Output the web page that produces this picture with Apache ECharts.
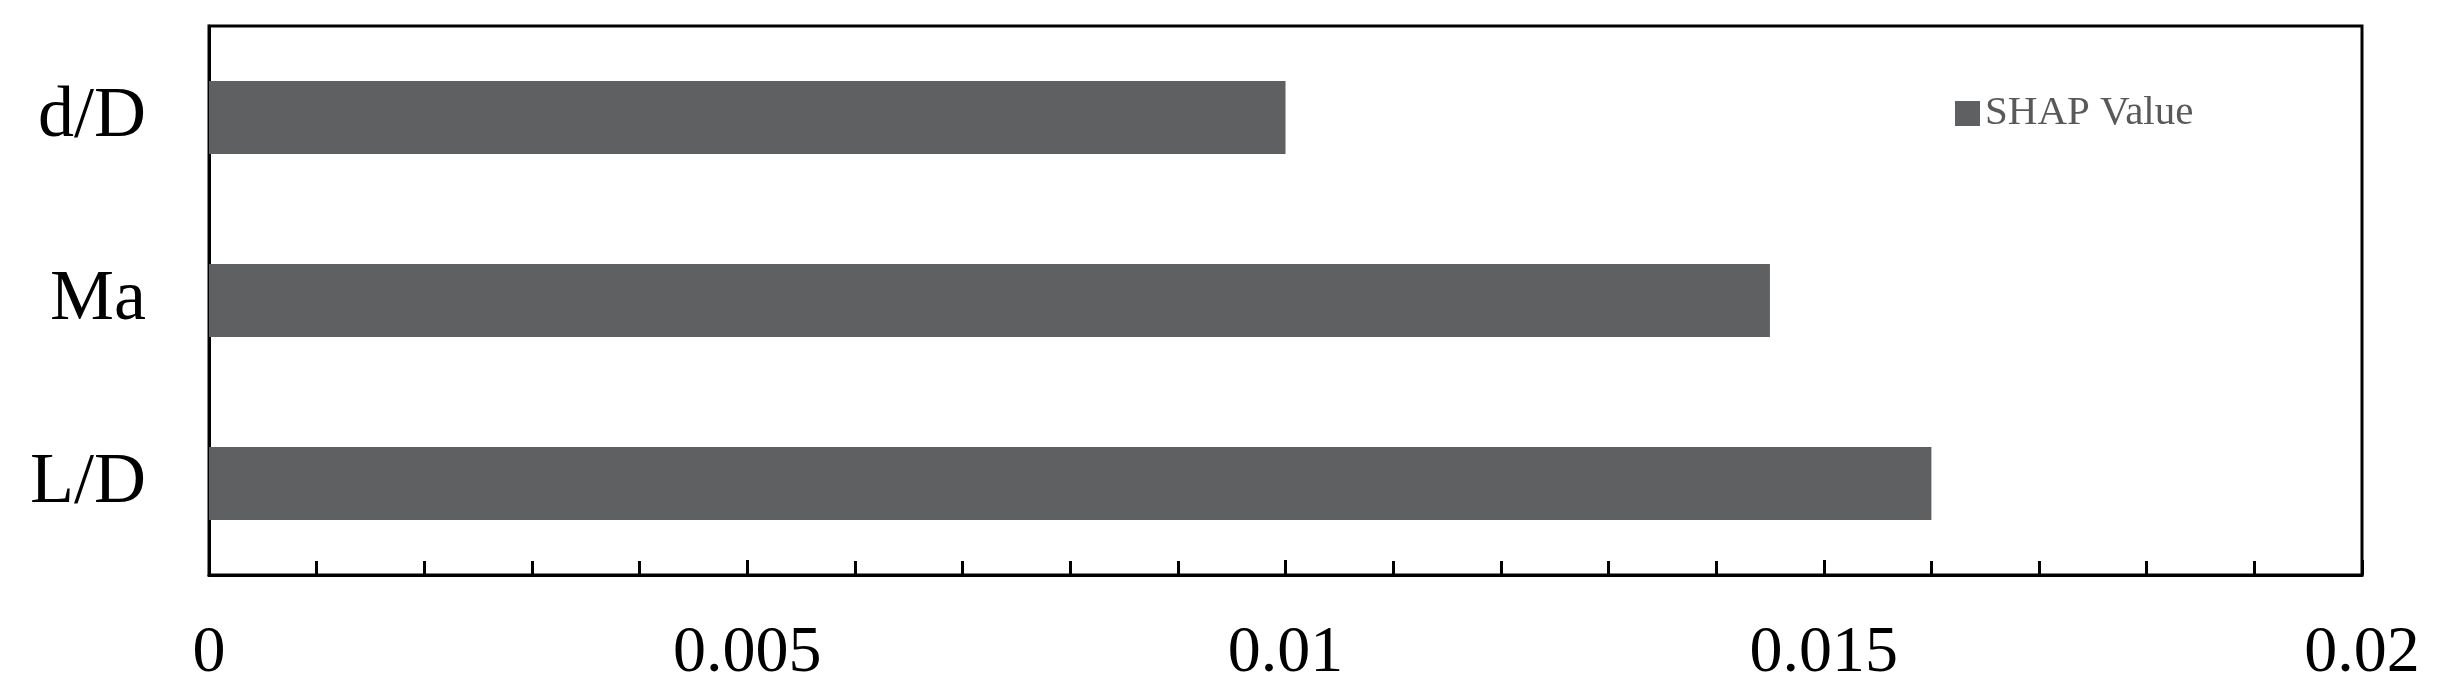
<!DOCTYPE html>
<html>
<head>
<meta charset="utf-8">
<script src="https://cdn.jsdelivr.net/npm/echarts@6/dist/echarts.min.js"></script>
<style>
  html, body { margin: 0; padding: 0; background: #fff; }
  #container { width: 2437px; height: 699px; }
</style>
</head>
<body>
<div id="container"></div>
<script>
var features = ['d/D', 'Ma', 'L/D'];
var shapValues = [0.0100, 0.0145, 0.0160];
var xTicks = [0, 0.005, 0.01, 0.015, 0.02];

var dom = document.getElementById('container');
var myChart = echarts.init(dom, null, { renderer: 'canvas' });

var option = {
  animation: false,
  backgroundColor: '#fff',
  grid: {
    left: 209,
    right: 75,
    top: 26,
    bottom: 124,
    show: true,
    borderColor: '#000',
    borderWidth: 3
  },
  legend: {
    left: 1950,
    top: 88,
    itemWidth: 25,
    itemHeight: 25,
    itemGap: 8,
    icon: 'rect',
    textStyle: { fontFamily: 'Liberation Serif', fontSize: 41, color: '#595959' },
    data: ['SHAP Value']
  },
  xAxis: {
    type: 'value',
    min: xTicks[0],
    max: xTicks[xTicks.length - 1],
    interval: 0.005,
    axisLine: { show: true, lineStyle: { color: '#000', width: 3 } },
    axisTick: { show: true, inside: true, length: 15, lineStyle: { color: '#000', width: 3 } },
    minorTick: { show: true, splitNumber: 5, length: 14, lineStyle: { color: '#000', width: 3 } },
    splitLine: { show: false },
    axisLabel: {
      fontFamily: 'Liberation Serif',
      fontSize: 66,
      color: '#000',
      margin: 46,
      formatter: function (v) { return String(+v.toFixed(3)); }
    }
  },
  yAxis: {
    type: 'category',
    inverse: true,
    data: features,
    axisLine: { show: true, lineStyle: { color: '#000', width: 3 } },
    axisTick: { show: false },
    axisLabel: { fontFamily: 'Liberation Serif', fontSize: 72, color: '#000', margin: 63 }
  },
  series: [
    {
      name: 'SHAP Value',
      type: 'bar',
      data: shapValues,
      barWidth: '40%',
      itemStyle: { color: '#5f6061' }
    }
  ]
};

myChart.setOption(option);
</script>
</body>
</html>
